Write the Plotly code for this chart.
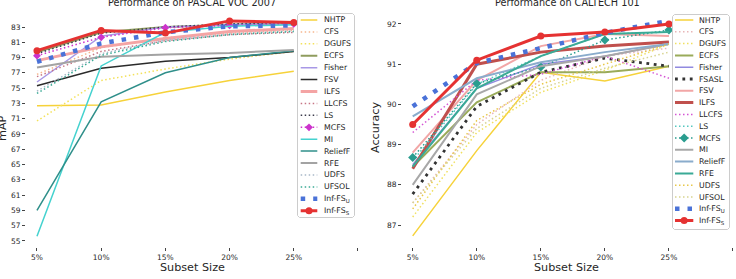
import plotly.graph_objects as go

W, H = 736, 279

# ---------------- data ----------------
subset_labels = ['5%', '10%', '15%', '20%', '25%']
axis_tick_labels = subset_labels + ['']

voc_yticks = list(range(55, 85, 2))
cal_yticks = [87, 88, 89, 90, 91, 92]

# PASCAL VOC 2007 (mAP)
voc_nhtp    = [72.7, 72.8, 74.5, 76.0, 77.2]
voc_cfs     = [76.8, 80.3, 81.6, 82.2, 82.6]
voc_dgufs   = [70.7, 76.0, 77.5, 78.8, 79.8]
voc_ecfs    = [79.7, 82.3, 83.0, 83.3, 83.5]
voc_fisher  = [75.8, 81.8, 83.0, 83.3, 83.5]
voc_fsv     = [75.3, 77.6, 78.5, 79.0, 79.8]
voc_ilfs    = [78.6, 80.4, 81.5, 82.4, 82.8]
voc_llcfs   = [76.5, 79.8, 81.2, 82.0, 82.3]
voc_ls      = [79.5, 82.2, 83.0, 83.4, 83.6]
voc_mcfs    = [79.25, 81.65, 82.9, 83.2, 83.4]
voc_mi      = [55.6, 77.9, 82.3, 83.1, 83.3]
voc_relieff = [59.0, 73.2, 77.0, 79.0, 79.9]
voc_rfe     = [77.7, 79.1, 79.4, 79.6, 80.0]
voc_udfs    = [74.6, 79.5, 81.3, 82.1, 82.5]
voc_ufsol   = [74.3, 79.3, 81.1, 82.0, 82.4]
voc_inffs_u = [78.45, 80.85, 82.3, 83.1, 83.2]
voc_inffs_s = [79.9, 82.55, 82.2, 83.8, 83.6]

# CALTECH 101 (Accuracy)
cal_nhtp    = [86.73, 88.85, 90.8, 90.58, 90.95]
cal_cfs     = [87.55, 89.5, 90.6, 91.2, 91.4]
cal_dgufs   = [87.2, 89.3, 90.3, 90.85, 91.5]
cal_ecfs    = [88.45, 90.05, 90.8, 90.8, 90.95]
cal_fisher  = [88.5, 90.4, 91.0, 91.2, 91.5]
cal_fsasl   = [87.77, 89.95, 90.8, 91.15, 90.95]
cal_fsv     = [88.8, 90.6, 91.45, 91.75, 91.7]
cal_ilfs    = [88.4, 91.0, 91.3, 91.45, 91.55]
cal_llcfs   = [89.3, 90.6, 90.75, 91.2, 90.65]
cal_ls      = [88.6, 90.5, 91.2, 91.75, 91.8]
cal_mcfs    = [88.68, 90.52, 90.93, 91.6, 91.85]
cal_mi      = [88.0, 90.25, 90.95, 91.2, 91.5]
cal_relieff = [89.7, 90.65, 91.05, 91.3, 91.5]
cal_rfe     = [88.45, 90.4, 91.2, 91.75, 91.8]
cal_udfs    = [87.4, 89.6, 90.5, 91.0, 91.5]
cal_ufsol   = [87.55, 89.4, 90.4, 90.9, 91.3]
cal_inffs_u = [89.95, 91.03, 91.4, 91.78, 92.08]
cal_inffs_s = [89.5, 91.1, 91.7, 91.8, 92.0]

# ---------------- styles ----------------
DOT = '1.5px,2.5px'
BIGSQ = '4.5px,8px'

def st(color, width=1.5, dash='solid', marker=None, msize=0):
    return dict(color=color, width=width, dash=dash, marker=marker, msize=msize)

voc_series = [
    ('NHTP', voc_nhtp, st('#f6d23a')),
    ('CFS', voc_cfs, st('#f6b78e', dash=DOT)),
    ('DGUFS', voc_dgufs, st('#f3e15a', dash=DOT)),
    ('ECFS', voc_ecfs, st('#8f9c5e', width=2)),
    ('Fisher', voc_fisher, st('#a898e6')),
    ('FSV', voc_fsv, st('#2b2b2b')),
    ('ILFS', voc_ilfs, st('#f4a4a4', width=3)),
    ('LLCFS', voc_llcfs, st('#c77585', dash=DOT)),
    ('LS', voc_ls, st('#3b3b4b', dash=DOT)),
    ('MCFS', voc_mcfs, st('#cc33cc', dash=DOT, marker='diamond', msize=6)),
    ('MI', voc_mi, st('#45d2cf')),
    ('ReliefF', voc_relieff, st('#2f8f8a')),
    ('RFE', voc_rfe, st('#a3a3a3', width=2)),
    ('UDFS', voc_udfs, st('#a8b8c8', dash=DOT)),
    ('UFSOL', voc_ufsol, st('#3aaa95', dash=DOT)),
    ('Inf-FS<sub>U</sub>', voc_inffs_u, st('#4a72d8', width=4.5, dash=BIGSQ)),
    ('Inf-FS<sub>S</sub>', voc_inffs_s, st('#e53232', width=3, marker='circle', msize=7)),
]

cal_series = [
    ('NHTP', cal_nhtp, st('#f6d23a')),
    ('CFS', cal_cfs, st('#e8b6b8', dash=DOT)),
    ('DGUFS', cal_dgufs, st('#f0e060', dash=DOT)),
    ('ECFS', cal_ecfs, st('#9aab5a', width=2)),
    ('Fisher', cal_fisher, st('#918ae0')),
    ('FSASL', cal_fsasl, st('#333333', width=2.8, dash='2.8px,4.6px')),
    ('FSV', cal_fsv, st('#f2a6a6', width=2)),
    ('ILFS', cal_ilfs, st('#c0504d', width=3)),
    ('LLCFS', cal_llcfs, st('#d455d4', dash=DOT)),
    ('LS', cal_ls, st('#55c8c0', dash=DOT)),
    ('MCFS', cal_mcfs, st('#2a9d8f', dash=DOT, marker='diamond', msize=7)),
    ('MI', cal_mi, st('#a8a8a8', width=2)),
    ('ReliefF', cal_relieff, st('#8aaccc', width=2)),
    ('RFE', cal_rfe, st('#3aaa96', width=2)),
    ('UDFS', cal_udfs, st('#e8c84a', dash=DOT)),
    ('UFSOL', cal_ufsol, st('#d8d490', dash=DOT)),
    ('Inf-FS<sub>U</sub>', cal_inffs_u, st('#4a72d8', width=4.5, dash=BIGSQ)),
    ('Inf-FS<sub>S</sub>', cal_inffs_s, st('#e53232', width=3, marker='circle', msize=7)),
]

FONT = 'DejaVu Sans'
TXT = '#262626'
PAD = 3  # px padding of legend helper axes around the frame

fig = go.Figure()

def px_x(p):
    return p / W

def px_y(p):
    return 1 - p / H

xs = list(range(len(subset_labels)))

def add_series(series, xa, ya):
    for name, vals, s in series:
        mode = 'lines+markers' if s['marker'] else 'lines'
        fig.add_trace(go.Scatter(
            x=xs, y=vals, mode=mode, name=name, xaxis=xa, yaxis=ya,
            line=dict(color=s['color'], width=s['width'], dash=s['dash']),
            marker=dict(symbol=s['marker'] or 'circle', size=s['msize'], color=s['color']),
            showlegend=False, hoverinfo='skip'))

add_series(voc_series, 'x', 'y')
add_series(cal_series, 'x2', 'y2')

annotations = []

def add_legend(series, box, xa, ya, top_off, step, lx0, lx1, tx):
    w, h = box[2] - box[0], box[3] - box[1]
    r = 2.0
    # legend frame (rounded rectangle outline)
    fig.add_trace(go.Scatter(
        x=[r, w - r, w, w, w - r, r, 0, 0, r],
        y=[0, 0, r, h - r, h, h, h - r, r, 0],
        mode='lines', xaxis=xa, yaxis=ya,
        line=dict(color='#cccccc', width=1), fill='toself', fillcolor='white',
        showlegend=False, hoverinfo='skip'))
    for i, (name, vals, s) in enumerate(series):
        yy = top_off + i * step
        fig.add_trace(go.Scatter(
            x=[lx0, lx1], y=[yy, yy], mode='lines', xaxis=xa, yaxis=ya,
            line=dict(color=s['color'], width=s['width'], dash=s['dash']),
            showlegend=False, hoverinfo='skip'))
        if s['marker']:
            fig.add_trace(go.Scatter(
                x=[(lx0 + lx1) / 2], y=[yy], mode='markers', xaxis=xa, yaxis=ya,
                marker=dict(symbol=s['marker'], size=s['msize'], color=s['color']),
                showlegend=False, hoverinfo='skip'))
        annotations.append(dict(
            x=tx, y=yy, xref=xa, yref=ya, text=name, showarrow=False,
            xanchor='left', yanchor='middle',
            font=dict(family=FONT, size=7.8, color=TXT)))

# legend boxes (pixel geometry)
L_box = (297.5, 13.5, 354.5, 217.5)
R_box = (672.5, 14.5, 729.5, 229.5)

add_legend(voc_series, L_box, 'x3', 'y3', 6.5, 11.92, 3.2, 19.8, 24.3)
add_legend(cal_series, R_box, 'x4', 'y4', 5.5, 11.8, 2.5, 20.8, 24.2)

# axes geometry
ax_top, ax_bot = 10, 247
ydom = [px_y(ax_bot), px_y(ax_top)]

tickfont = dict(family=FONT, size=7.5, color=TXT)

def xaxis_cfg(x0, x1, r0, r1):
    return dict(domain=[px_x(x0), px_x(x1)], range=[r0, r1],
                tickmode='array', tickvals=list(range(len(axis_tick_labels))),
                ticktext=axis_tick_labels, ticks='outside', ticklen=3, tickwidth=1,
                tickcolor='#444', showline=False, showgrid=False, zeroline=False,
                tickfont=tickfont, fixedrange=True)

def yaxis_cfg(anchor, r0, r1, tv):
    return dict(domain=ydom, range=[r0, r1], anchor=anchor,
                tickmode='array', tickvals=tv, ticktext=[str(v) for v in tv],
                ticks='outside', ticklen=3, tickwidth=1, tickcolor='#444',
                showline=False, showgrid=False, zeroline=False,
                tickfont=tickfont, fixedrange=True)

def legend_x(box, anchor):
    return dict(domain=[px_x(box[0] - PAD), px_x(min(box[2] + PAD, W))],
                range=[-PAD, min(box[2] + PAD, W) - box[0]],
                visible=False, anchor=anchor, fixedrange=True)

def legend_y(box, anchor):
    return dict(domain=[px_y(box[3] + PAD), px_y(box[1] - PAD)],
                range=[box[3] - box[1] + PAD, -PAD],
                visible=False, anchor=anchor, fixedrange=True)

fig.update_layout(
    width=W, height=H, margin=dict(l=0, r=0, t=0, b=0),
    paper_bgcolor='white', plot_bgcolor='rgba(0,0,0,0)',
    showlegend=False,
    xaxis=dict(xaxis_cfg(26, 370, -0.171, 5.187), anchor='y'),
    yaxis=yaxis_cfg('x', 54.2, 85.225, voc_yticks),
    xaxis2=dict(xaxis_cfg(402, 736, -0.167, 5.047), anchor='y2'),
    yaxis2=yaxis_cfg('x2', 86.453, 92.348, cal_yticks),
    xaxis3=legend_x(L_box, 'y3'), yaxis3=legend_y(L_box, 'x3'),
    xaxis4=legend_x(R_box, 'y4'), yaxis4=legend_y(R_box, 'x4'),
)

title_font = dict(family=FONT, size=9.7, color=TXT)
label_font = dict(family=FONT, size=11.2, color=TXT)

annotations += [
    dict(x=px_x(192), y=px_y(2.5), xref='paper', yref='paper', showarrow=False,
         text='Performance on PASCAL VOC 2007', font=title_font,
         xanchor='center', yanchor='middle'),
    dict(x=px_x(567), y=px_y(2.5), xref='paper', yref='paper', showarrow=False,
         text='Performance on CALTECH 101', font=title_font,
         xanchor='center', yanchor='middle'),
    dict(x=px_x(192), y=px_y(267), xref='paper', yref='paper', showarrow=False,
         text='Subset Size', font=label_font, xanchor='center', yanchor='middle'),
    dict(x=px_x(566), y=px_y(267), xref='paper', yref='paper', showarrow=False,
         text='Subset Size', font=label_font, xanchor='center', yanchor='middle'),
    dict(x=px_x(2), y=px_y(128), xref='paper', yref='paper', showarrow=False,
         text='mAP', font=label_font, textangle=-90,
         xanchor='center', yanchor='middle'),
    dict(x=px_x(375), y=px_y(128), xref='paper', yref='paper', showarrow=False,
         text='Accuracy', font=label_font, textangle=-90,
         xanchor='center', yanchor='middle'),
]

fig.update_layout(annotations=annotations)

fig.write_html('out.html')
